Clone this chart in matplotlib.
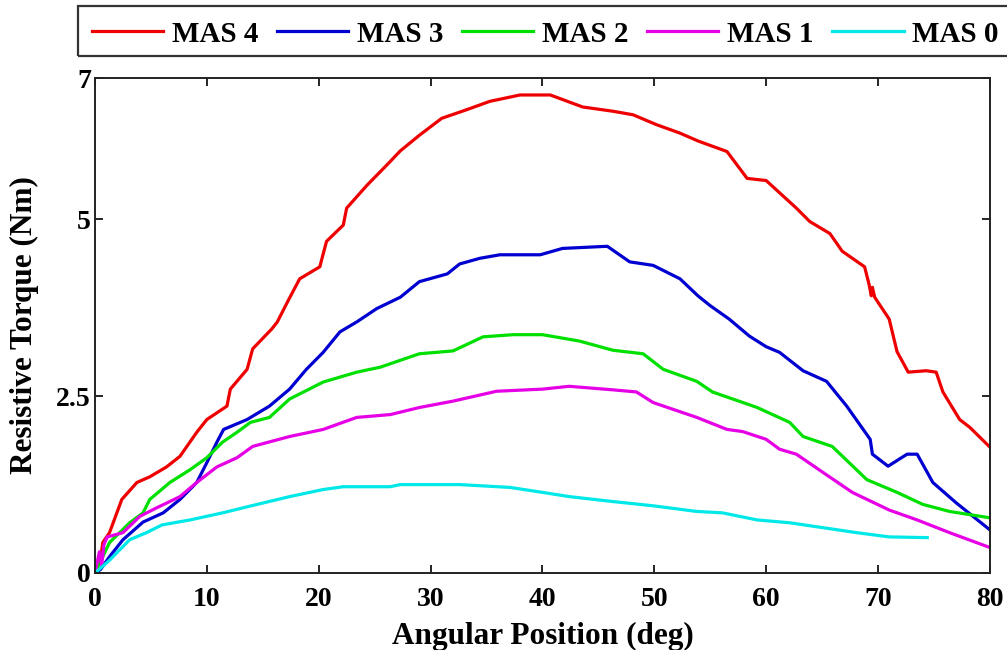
import matplotlib
matplotlib.use("Agg")
import matplotlib.pyplot as plt
from matplotlib.patches import Rectangle

plt.rcParams['font.family'] = ['Liberation Serif', 'DejaVu Serif']
plt.rcParams['font.weight'] = 'bold'

# Resistive torque (Nm) vs angular position (deg) for each MAS level
mas4_x = [0, 0.5, 0.7, 1.3, 2.4, 3.75, 4.9, 6.4, 7.6, 9.1, 10.0, 11.8, 12.1, 13.6, 14.1,
          15.8, 16.3, 17.2, 18.3, 20.1, 20.7, 22.2, 22.5, 24.3, 26.4, 27.3, 29.0, 31.0,
          33.2, 35.3, 38.0, 40.7, 43.6, 46.3, 48.1, 50.2, 52.3, 53.9, 56.5, 58.3, 60.0,
          62.7, 63.9, 65.7, 66.8, 68.8, 69.2, 69.4, 69.5, 69.7, 71.0, 71.7, 72.7, 74.3,
          75.2, 75.8, 77.3, 78.2, 80.0]
mas4_y = [0, 0.20, 0.43, 0.57, 1.04, 1.28, 1.36, 1.50, 1.65, 1.99, 2.17, 2.36, 2.60, 2.88, 3.17,
          3.45, 3.55, 3.83, 4.16, 4.33, 4.69, 4.92, 5.16, 5.48, 5.82, 5.97, 6.19, 6.43,
          6.55, 6.67, 6.76, 6.76, 6.59, 6.53, 6.48, 6.34, 6.22, 6.11, 5.96, 5.58, 5.55,
          5.16, 4.97, 4.80, 4.55, 4.33, 4.08, 3.92, 4.04, 3.90, 3.59, 3.13, 2.84, 2.86,
          2.84, 2.56, 2.17, 2.06, 1.78]

mas3_x = [0, 0.5, 1.3, 2.5, 4.3, 6.1, 7.6, 9.1, 10.0, 10.9, 11.5, 13.6, 15.6, 17.4, 18.9,
          20.4, 21.9, 23.4, 25.2, 27.3, 29.0, 31.5, 32.6, 34.4, 36.2, 39.8, 41.8, 45.8,
          47.8, 49.9, 52.3, 53.9, 55.0, 56.7, 58.5, 60.0, 61.2, 63.3, 65.4, 67.2, 69.3,
          69.5, 70.9, 72.6, 73.5, 74.9, 77.0, 78.5, 80.0]
mas3_y = [0, 0.05, 0.23, 0.47, 0.72, 0.85, 1.04, 1.28, 1.56, 1.85, 2.03, 2.17, 2.36, 2.60, 2.88,
          3.12, 3.41, 3.55, 3.74, 3.90, 4.12, 4.23, 4.37, 4.45, 4.50, 4.50, 4.59, 4.62,
          4.40, 4.35, 4.16, 3.92, 3.78, 3.59, 3.35, 3.20, 3.12, 2.86, 2.71, 2.36, 1.89,
          1.68, 1.51, 1.68, 1.68, 1.28, 0.99, 0.80, 0.61]

mas2_x = [0, 1.3, 3.1, 4.3, 4.9, 6.7, 8.5, 10.0, 11.4, 12.7, 13.9, 15.6, 17.4, 20.4, 23.4,
          25.5, 29.0, 32.0, 34.7, 37.4, 40.0, 43.3, 46.3, 49.0, 50.8, 53.8, 55.2, 59.2,
          62.1, 63.3, 65.9, 69.0, 71.7, 74.0, 76.4, 80.0]
mas2_y = [0, 0.43, 0.71, 0.85, 1.04, 1.28, 1.46, 1.63, 1.85, 1.99, 2.13, 2.20, 2.46, 2.70, 2.84,
          2.91, 3.10, 3.14, 3.34, 3.37, 3.37, 3.28, 3.15, 3.10, 2.88, 2.71, 2.56, 2.34,
          2.13, 1.93, 1.79, 1.32, 1.14, 0.97, 0.87, 0.78]

mas1_x = [0, 0.4, 0.6, 0.8, 1.1, 2.5, 4.0, 5.5, 7.6, 9.1, 10.9, 12.7, 14.1, 17.4, 20.4,
          23.4, 26.4, 29.0, 32.0, 35.9, 40.0, 42.4, 46.3, 48.4, 49.9, 53.8, 56.5, 57.9,
          60.0, 61.2, 62.7, 65.1, 67.7, 71.0, 73.5, 76.4, 80.0]
mas1_y = [0, 0.30, 0.10, 0.40, 0.51, 0.57, 0.80, 0.92, 1.08, 1.28, 1.50, 1.63, 1.79, 1.93, 2.03,
          2.20, 2.24, 2.34, 2.43, 2.57, 2.60, 2.64, 2.59, 2.56, 2.41, 2.20, 2.03, 2.00,
          1.89, 1.75, 1.68, 1.42, 1.14, 0.89, 0.75, 0.57, 0.36]

mas0_x = [0, 1.3, 3.1, 4.6, 6.0, 8.5, 11.4, 14.5, 17.4, 20.4, 22.2, 26.4, 27.3, 32.6, 37.1,
          40.0, 42.4, 46.3, 49.9, 53.8, 56.1, 59.2, 62.1, 65.1, 68.1, 71.0, 74.4]
mas0_y = [0, 0.18, 0.47, 0.57, 0.68, 0.75, 0.85, 0.97, 1.08, 1.18, 1.22, 1.22, 1.25, 1.25, 1.21,
          1.14, 1.08, 1.01, 0.95, 0.87, 0.85, 0.75, 0.71, 0.64, 0.57, 0.51, 0.50]

series = [
    ("MAS 4", mas4_x, mas4_y, "#ee0000"),
    ("MAS 3", mas3_x, mas3_y, "#0000d0"),
    ("MAS 2", mas2_x, mas2_y, "#00e000"),
    ("MAS 1", mas1_x, mas1_y, "#e600e6"),
    ("MAS 0", mas0_x, mas0_y, "#00e8e8"),
]

x_ticks = [0, 10, 20, 30, 40, 50, 60, 70, 80]
y_ticks = [0, 2.5, 5, 7]
y_tick_labels = ["0", "2.5", "5", "7"]

fig = plt.figure(figsize=(10.07, 6.5), dpi=100)
ax = fig.add_axes([0.0943, 0.1185, 0.8887, 0.7615])

handles = []
for name, xs, ys, col in series:
    h, = ax.plot(xs, ys, color=col, lw=2.3, label=name)
    handles.append(h)

ax.set_xlim(0, 80)
ax.set_ylim(0, 7)
ax.set_xticks(x_ticks)
ax.set_yticks(y_ticks)
ax.set_yticklabels(y_tick_labels)
ax.tick_params(direction='in', top=True, right=True, length=6, width=1.2,
               labelsize=20)
ax.tick_params(axis='x', pad=10)
ax.tick_params(axis='y', pad=3)
for lab in ax.get_xticklabels() + ax.get_yticklabels():
    lab.set_fontweight('bold')
for sp in ax.spines.values():
    sp.set_linewidth(1.4)
    sp.set_color('#222222')

ax.set_xlabel("Angular Position (deg)", fontsize=22.5, fontweight='bold', labelpad=7)
ax.set_ylabel("Resistive Torque (Nm)", fontsize=22.5, fontweight='bold', labelpad=12)

# legend box across the top of the figure
fig.patches.append(Rectangle((78 / 1007, 1 - 56 / 650), (1012 - 78) / 1007, 50 / 650,
                             transform=fig.transFigure, fill=False,
                             edgecolor='#333333', linewidth=1.6, clip_on=False))

leg = fig.legend(handles=handles, loc='center left',
                 bbox_to_anchor=(92 / 1007, 1 - 34 / 650),
                 ncol=5, prop={'weight': 'bold', 'size': 21},
                 frameon=False, handlelength=2.45, handletextpad=0.28,
                 borderaxespad=0, borderpad=0, columnspacing=0.65)

fig.savefig("out.png", dpi=100)
